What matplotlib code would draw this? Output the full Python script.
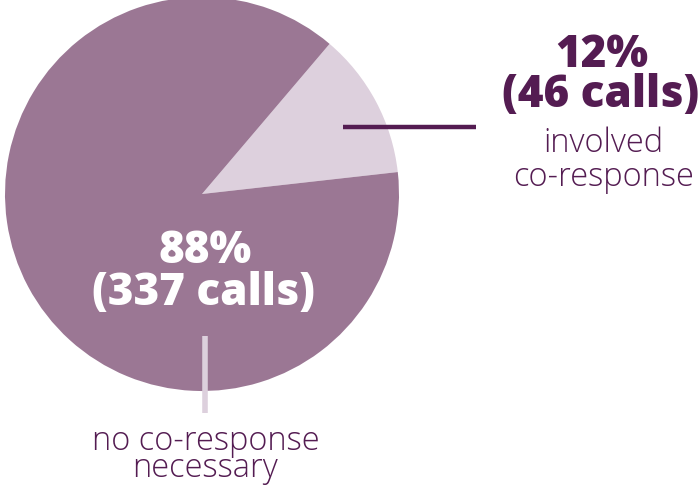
import matplotlib
matplotlib.use("Agg")
import matplotlib.pyplot as plt

categories = ["involved co-response", "no co-response necessary"]
calls = [46, 337]
percent_labels = ["12%", "88%"]
count_labels = ["(46 calls)", "(337 calls)"]
category_lines = [["involved", "co-response"], ["no co-response", "necessary"]]

slice_colors = ["#ddd0dd", "#9b7794"]
text_dark = "#541c52"

W, H = 700, 487
fig = plt.figure(figsize=(7, 4.87), dpi=100)
ax = fig.add_axes([0, 0, 1, 1])

cx, cy, r = 202, H - 194, 197
ax.pie(calls, colors=slice_colors, startangle=6.4, counterclock=True,
       center=(cx, cy), radius=r, frame=False,
       wedgeprops=dict(linewidth=0))
ax.set_xlim(0, W)
ax.set_ylim(0, H)
ax.set_aspect("equal")
ax.axis("off")

fam = ["Open Sans", "DejaVu Sans"]
BOLD, LIGHT = "heavy", "light"

# leader lines
ax.plot([343, 476], [H - 127, H - 127], color=text_dark, lw=3.2, solid_capstyle="butt")
ax.plot([205, 205], [H - 336, H - 413], color="#ddd0dd", lw=4, solid_capstyle="butt")

# (text, x-center, baseline y px, target width px, color, weight)
items = [
    (percent_labels[0], 602, 67, 89, text_dark, BOLD),
    (count_labels[0], 601, 107, 193, text_dark, BOLD),
    (category_lines[0][0], 603, 152, 123, text_dark, LIGHT),
    (category_lines[0][1], 604, 186, 182, text_dark, LIGHT),
    (percent_labels[1], 205, 263, 101, "white", BOLD),
    (count_labels[1], 204, 305, 218, "white", BOLD),
    (category_lines[1][0], 206, 450, 228, text_dark, LIGHT),
    (category_lines[1][1], 205, 477, 144, text_dark, LIGHT),
]
texts = []
for s, x, yb, tw, c, w in items:
    t = ax.text(x, H - yb, s, ha="center", va="baseline", color=c,
                family=fam, fontweight=w, fontsize=20)
    texts.append((t, tw, w))
fig.canvas.draw()
rend = fig.canvas.get_renderer()
for wt in (BOLD, LIGHT):
    ratios = [tw / t.get_window_extent(rend).width for t, tw, w in texts if w == wt]
    size = 20 * sum(ratios) / len(ratios)
    for t, tw, w in texts:
        if w == wt:
            t.set_fontsize(size)

fig.savefig("out.png", dpi=100)
